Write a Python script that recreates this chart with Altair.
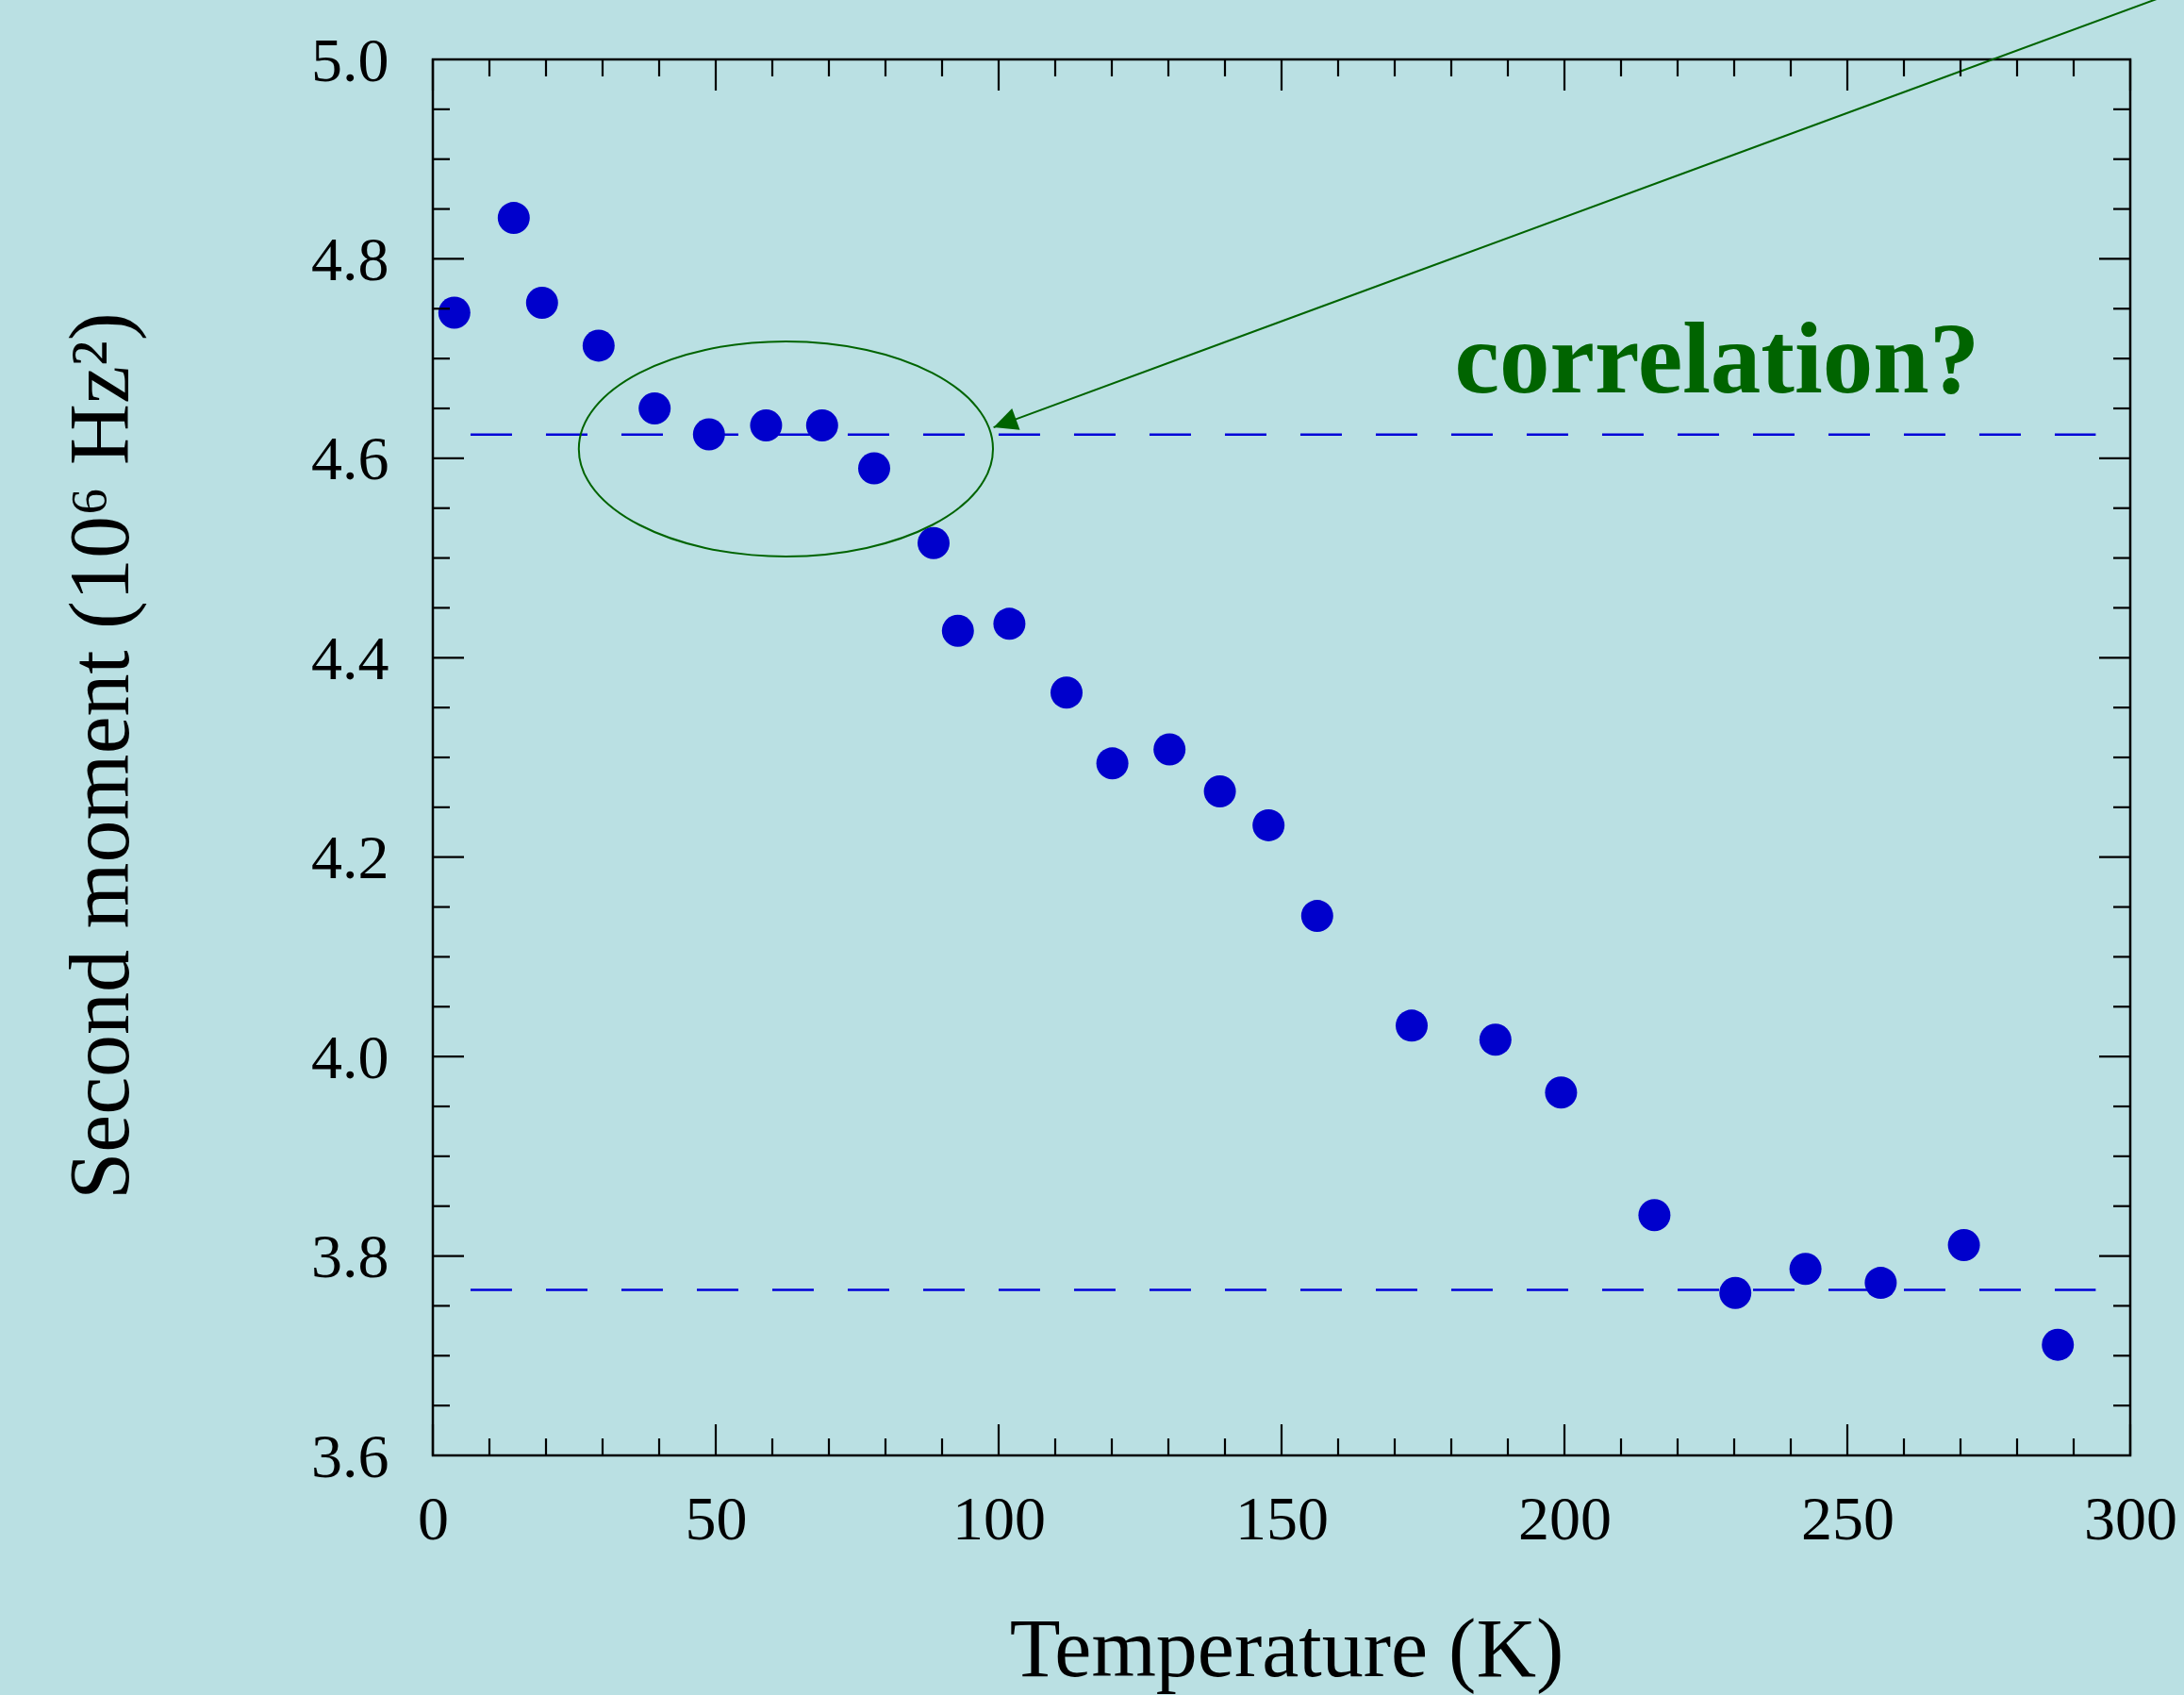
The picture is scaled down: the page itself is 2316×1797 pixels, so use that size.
import altair as alt
import pandas as pd

# ---------------- data ----------------
temperature = [3.8, 14.3, 19.3, 29.3, 39.2, 48.8, 58.9, 68.8, 78.0, 88.5,
               92.8, 101.9, 112.0, 120.1, 130.2, 139.1, 147.7, 156.3, 173.0,
               187.8, 199.4, 215.9, 230.2, 242.6, 255.9, 270.6, 287.2]
second_moment = [4.746, 4.841, 4.756, 4.713, 4.650, 4.624, 4.633, 4.633, 4.590,
                 4.515, 4.427, 4.434, 4.365, 4.294, 4.308, 4.266, 4.232, 4.141,
                 4.031, 4.017, 3.964, 3.841, 3.763, 3.787, 3.773, 3.811, 3.711]

x_major = [0, 50, 100, 150, 200, 250, 300]
x_minor = [10, 20, 30, 40, 60, 70, 80, 90, 110, 120, 130, 140, 160, 170, 180,
           190, 210, 220, 230, 240, 260, 270, 280, 290]
y_major = [3.6, 3.8, 4.0, 4.2, 4.4, 4.6, 4.8, 5.0]
y_minor = [3.65, 3.7, 3.75, 3.85, 3.9, 3.95, 4.05, 4.1, 4.15, 4.25, 4.3, 4.35,
           4.45, 4.5, 4.55, 4.65, 4.7, 4.75, 4.85, 4.9, 4.95]

plateau_level = [4.6238, 3.766]
plateau_start = [6.66, 6.66]
plateau_end = [293.9, 293.9]

ellipse_x = [62.4]
ellipse_y = [4.6094]

arrow_tip_x = [99.1]
arrow_tip_y = [4.631]
arrow_tail_x = [310.0]
arrow_tail_y = [5.0717]

note_text = ["correlation?"]
note_x = [180.6]
note_y = [4.6664]

# ---------------- layout ----------------
W, H = 1800, 1480
FONT = "Liberation Serif"
GREEN = "#006400"

xs = alt.Scale(domain=[0, 300], nice=False, zero=False)
ys = alt.Scale(domain=[3.6, 5.0], nice=False, zero=False)

df_pts = pd.DataFrame({"T": temperature, "M": second_moment})

x_axis = alt.Axis(orient="bottom", values=x_major, ticks=False, domain=False,
                  grid=False, labelFontSize=66, labelPadding=36,
                  labelFlush=False, labelOverlap=False,
                  title="Temperature (K)", titleFontSize=88,
                  titleX=905, titleY=233, titleAlign="center",
                  titleBaseline="alphabetic")
y_axis = alt.Axis(orient="left", values=y_major, format=".1f", ticks=False,
                  domain=False, grid=False, labelFontSize=66, labelPadding=47,
                  labelFlush=False, labelOverlap=False, labelOffset=2,
                  title="Second moment (10\u2076 Hz\u00b2)", titleFontSize=90,
                  titleAngle=270, titleX=-324, titleY=738, titleAlign="center",
                  titleBaseline="alphabetic")

points = alt.Chart(df_pts).mark_circle(size=1156, color="#0000CC", opacity=1).encode(
    x=alt.X("T:Q", scale=xs, axis=x_axis),
    y=alt.Y("M:Q", scale=ys, axis=y_axis),
)

df_plat = pd.DataFrame({"x1": plateau_start, "x2": plateau_end, "y": plateau_level})
plateaus = alt.Chart(df_plat).mark_rule(color="#0000D8", strokeWidth=2.6,
                                        strokeDash=[44, 36]).encode(
    x=alt.X("x1:Q", scale=xs, axis=None),
    x2="x2:Q",
    y=alt.Y("y:Q", scale=ys, axis=None),
)

ELLIPSE = "M -1 0 A 1 0.519 0 1 0 1 0 A 1 0.519 0 1 0 -1 0 Z"
df_ell = pd.DataFrame({"x": ellipse_x, "y": ellipse_y})
ellipse = alt.Chart(df_ell).mark_point(shape=ELLIPSE, size=(2 * 219.6) ** 2,
                                       filled=False, color=GREEN,
                                       strokeWidth=2, opacity=1).encode(
    x=alt.X("x:Q", scale=xs, axis=None),
    y=alt.Y("y:Q", scale=ys, axis=None),
)

df_arrow = pd.DataFrame({"x": arrow_tip_x, "y": arrow_tip_y,
                         "x2": arrow_tail_x, "y2": arrow_tail_y})
arrow_line = alt.Chart(df_arrow).mark_rule(color=GREEN, strokeWidth=2).encode(
    x=alt.X("x:Q", scale=xs, axis=None),
    y=alt.Y("y:Q", scale=ys, axis=None),
    x2="x2:Q",
    y2="y2:Q",
)
ARROWHEAD = "M 0 0 L 2 -0.96 L 2 0.96 Z"
arrow_head = alt.Chart(df_arrow).mark_point(shape=ARROWHEAD, size=640, angle=340,
                                            filled=True, color=GREEN,
                                            opacity=1).encode(
    x=alt.X("x:Q", scale=xs, axis=None),
    y=alt.Y("y:Q", scale=ys, axis=None),
)

df_note = pd.DataFrame({"x": note_x, "y": note_y, "t": note_text})
note = alt.Chart(df_note).mark_text(font=FONT, fontSize=107, fontWeight="bold",
                                    color=GREEN, align="left",
                                    baseline="alphabetic").encode(
    x=alt.X("x:Q", scale=xs, axis=None),
    y=alt.Y("y:Q", scale=ys, axis=None),
    text="t:N",
)


def yticks(vals, length):
    d = pd.DataFrame({"v": vals})
    base = alt.Chart(d).mark_rule(color="black", strokeWidth=2.2)
    left = base.encode(y=alt.Y("v:Q", scale=ys, axis=None),
                       x=alt.value(0), x2=alt.value(length))
    right = base.encode(y=alt.Y("v:Q", scale=ys, axis=None),
                        x=alt.value(W), x2=alt.value(W - length))
    return [left, right]


def xticks(vals, length):
    d = pd.DataFrame({"v": vals})
    base = alt.Chart(d).mark_rule(color="black", strokeWidth=2.2)
    bottom = base.encode(x=alt.X("v:Q", scale=xs, axis=None),
                         y=alt.value(H), y2=alt.value(H - length))
    top = base.encode(x=alt.X("v:Q", scale=xs, axis=None),
                      y=alt.value(0), y2=alt.value(length))
    return [bottom, top]


tick_layers = (yticks(y_major, 33) + yticks(y_minor, 18) +
               xticks(x_major, 33) + xticks(x_minor, 18))

chart = alt.layer(
    plateaus, ellipse, arrow_line, arrow_head, points, note, *tick_layers
).resolve_axis(
    x="independent", y="independent"
).properties(
    width=W, height=H,
    autosize=alt.AutoSizeParams(type="none"),
    padding={"left": 459, "top": 63, "right": 57, "bottom": 254},
    background="#BAE0E3",
).configure_view(
    stroke="black", strokeWidth=2.5
).configure_axis(
    labelFont=FONT, titleFont=FONT, labelColor="black", titleColor="black",
    titleFontWeight="normal"
)

chart.save("out.html", embed_options={"renderer": "svg", "actions": False})
